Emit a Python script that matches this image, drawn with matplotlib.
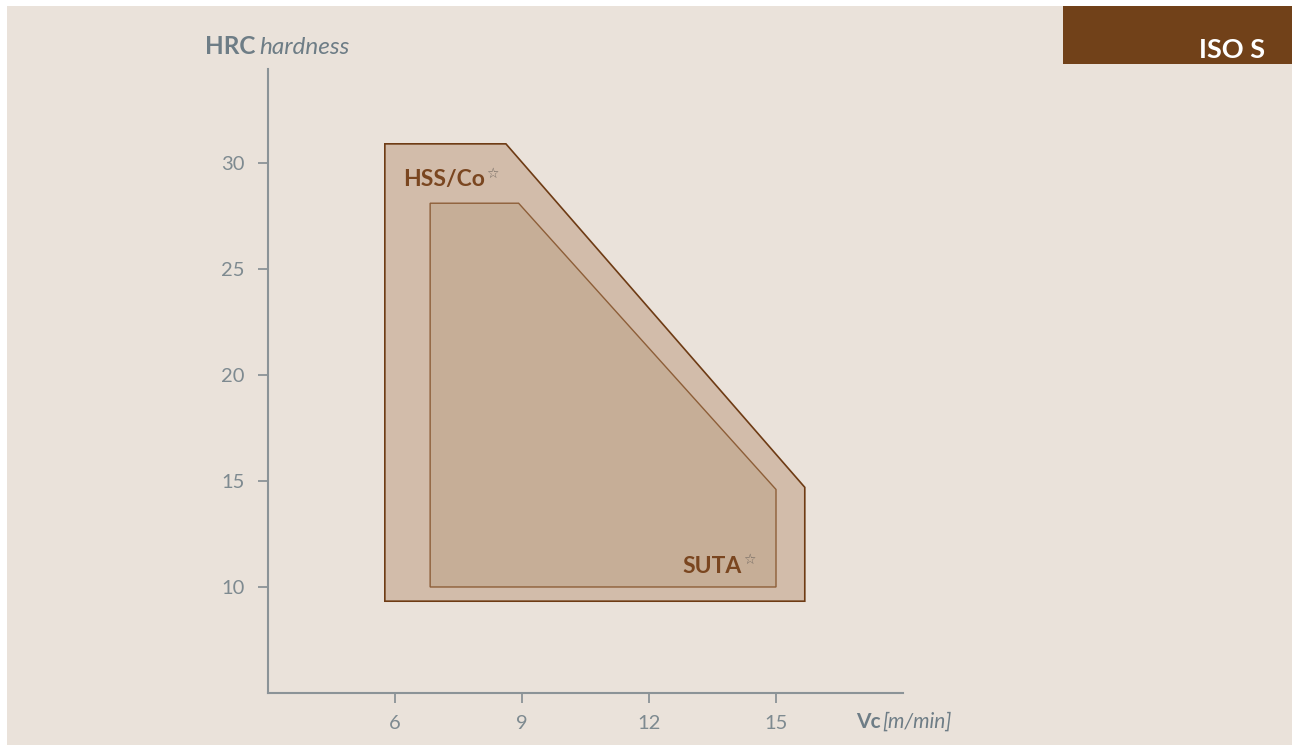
import matplotlib
matplotlib.use("Agg")
import matplotlib.pyplot as plt
from matplotlib.patches import Polygon, Rectangle

plt.rcParams['font.family'] = ['Lato', 'DejaVu Sans']

# outline of the application areas (Vc m/min, HRC)
hss_vc = [5.76, 8.62, 15.68, 15.68, 5.76]
hss_hrc = [30.9, 30.9, 14.7, 9.33, 9.33]
suta_vc = [6.83, 8.92, 15.0, 15.0, 6.83]
suta_hrc = [28.1, 28.1, 14.6, 10.0, 10.0]

x_ticks = [6, 9, 12, 15]
y_ticks = [10, 15, 20, 25, 30]

bg = '#EAE2DA'
axis_grey = '#8B9397'
label_grey = '#6E7D86'
brown = '#7A4620'

fig = plt.figure(figsize=(12.92, 7.45), dpi=100, facecolor='white')
fig.patches.append(Rectangle((7 / 1292, 0), 1, 1 - 6 / 745, transform=fig.transFigure,
                             facecolor=bg, edgecolor='none', zorder=-10))

ax = fig.add_axes([268 / 1292, 1 - 693 / 745, 635 / 1292, 624 / 745])
ax.set_facecolor('none')
ax.set_xlim(3, 18)
ax.set_ylim(5, 34.43)

ax.add_patch(Polygon(list(zip(hss_vc, hss_hrc)), closed=True, facecolor='#D2BCAA',
                     edgecolor='#6E3B14', linewidth=1.2))
ax.add_patch(Polygon(list(zip(suta_vc, suta_hrc)), closed=True, facecolor='#C6AE97',
                     edgecolor='#8D5E38', linewidth=1.0))

for s in ['top', 'right']:
    ax.spines[s].set_visible(False)
for s in ['left', 'bottom']:
    ax.spines[s].set_color(axis_grey)
    ax.spines[s].set_linewidth(1.5)

ax.set_xticks(x_ticks)
ax.set_yticks(y_ticks)
ax.tick_params(axis='y', length=7, width=1.3, color=axis_grey, labelcolor='#7E8A90',
               labelsize=14.5, pad=10)
ax.tick_params(axis='x', length=7, width=1.3, color=axis_grey, labelcolor='#7E8A90',
               labelsize=14.5, pad=9)

hss = ax.text(6.2, 29.2, 'HSS/Co', fontsize=16.5, fontweight='bold', color=brown,
              va='center', ha='left')
ax.annotate('\u2606', xy=(1, 0.8), xycoords=hss, xytext=(0.5, 0), textcoords='offset points',
            fontsize=10, color='#736A62', va='center', ha='left', family=['DejaVu Sans'])
suta = ax.text(14.2, 10.95, 'SUTA', fontsize=16.5, fontweight='bold', color=brown,
               va='center', ha='right')
ax.annotate('\u2606', xy=(1, 0.8), xycoords=suta, xytext=(0.5, 0), textcoords='offset points',
            fontsize=10, color='#736A62', va='center', ha='left', family=['DejaVu Sans'])

# axis titles
fig.text(205 / 1292, 1 - 47 / 745, 'HRC', fontsize=17.5, fontweight='bold',
         color=label_grey, va='center', ha='left')
fig.text(259 / 1292, 1 - 47 / 745, 'hardness', fontsize=17.5, style='italic',
         color=label_grey, va='center', ha='left')
fig.text(856 / 1292, 1 - 722 / 745, 'Vc', fontsize=15, fontweight='bold',
         color=label_grey, va='center', ha='left')
fig.text(882 / 1292, 1 - 722 / 745, '[m/min]', fontsize=15, style='italic',
         color=label_grey, va='center', ha='left')

# material group badge
fig.patches.append(Rectangle((1063 / 1292, 1 - 64 / 745), (1292 - 1063) / 1292, 58 / 745,
                             transform=fig.transFigure, facecolor='#714119',
                             edgecolor='none'))
fig.text(1265 / 1292, 1 - 50 / 745, 'ISO S', fontsize=19.5, fontweight='bold',
         color='white', va='center', ha='right')

fig.savefig('out.png', dpi=100, facecolor=fig.get_facecolor())
